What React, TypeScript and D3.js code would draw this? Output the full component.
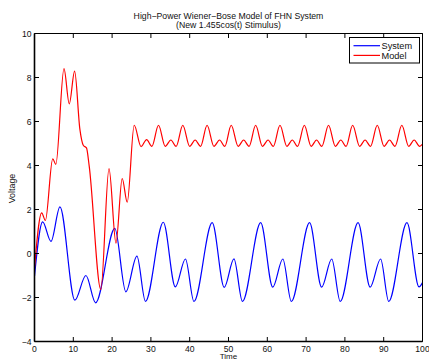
import React from "react";
import * as d3 from "d3";

// Data (extrema and key points)
const systemTime = [
  0, 2.1, 4.25, 6.56, 10.4, 13.25, 15.75, 20.7, 23.55, 26.4, 28.6,
  33.2, 36.3, 38.9, 41.1,
  45.8, 48.9, 51.4, 53.6,
  58.3, 61.4, 64.0, 66.2,
  70.9, 74.0, 76.6, 78.8,
  83.4, 86.5, 89.2, 91.3,
  96.0, 99.1, 100,
];
const systemVoltage = [
  -1.03, 1.44, 0.55, 2.12, -2.12, -1.0, -2.24, 1.14, -1.74, -0.12, -2.18,
  1.42, -1.52, -0.25, -2.18,
  1.40, -1.54, -0.24, -2.18,
  1.40, -1.53, -0.25, -2.18,
  1.40, -1.53, -0.25, -2.18,
  1.40, -1.53, -0.25, -2.18,
  1.40, -1.52, -1.32,
];

const modelTime = [
  0, 1.85, 2.8, 4.7, 5.5, 7.6, 8.96, 10.34, 11.7, 12.57, 13.4, 14.1, 17.1,
  19.2, 21.0, 22.6, 23.9,
  25.7, 27.45, 28.9, 30.25,
  31.96, 33.7, 35.15, 36.5,
  38.22, 40.0, 41.4, 42.8,
  44.48, 46.25, 47.7, 49.05,
  50.7, 52.5, 53.9, 55.3,
  57.0, 58.75, 60.2, 61.55,
  63.27, 65.05, 66.45, 67.8,
  69.55, 71.3, 72.7, 74.05,
  75.78, 77.55, 78.95, 80.3,
  82.0, 83.8, 85.2, 86.6,
  88.34, 90.1, 91.5, 92.9,
  94.67, 96.45, 97.85, 99.25, 100,
];
const modelVoltage = [
  -0.65, 1.85, 1.5, 4.3, 4.05, 8.4, 6.8, 8.29, 5.64, 4.92, 4.8, 3.97, -1.64,
  3.86, 0.47, 3.41, 2.33,
  5.83, 4.86, 5.18, 4.87,
  5.83, 4.87, 5.16, 4.87,
  5.83, 4.87, 5.16, 4.87,
  5.83, 4.87, 5.16, 4.87,
  5.83, 4.87, 5.16, 4.87,
  5.83, 4.87, 5.16, 4.87,
  5.83, 4.87, 5.16, 4.87,
  5.83, 4.87, 5.16, 4.87,
  5.83, 4.87, 5.16, 4.87,
  5.83, 4.87, 5.16, 4.87,
  5.83, 4.87, 5.16, 4.87,
  5.83, 4.87, 5.16, 4.87, 4.97,
];

const xTicks = [0, 10, 20, 30, 40, 50, 60, 70, 80, 90, 100];
const yTicks = [-4, -2, 0, 2, 4, 6, 8, 10];
const titleLines = ["High\u2212Power Wiener\u2212Bose Model of FHN System", "(New 1.455cos(t) Stimulus)"];
const legendLabels = ["System", "Model"];
const seriesColors = ["#0000ff", "#ff0000"];

const W = 429;
const H = 360;
const left = 34.5;
const right = 422.5;
const top = 33.5;
const bottom = 341.5;
const font = "'Liberation Sans', Arial, Helvetica, sans-serif";

const fmt = (v: number) => (v < 0 ? "\u2212" + Math.abs(v) : String(v));

export default function App() {
  const x = d3.scaleLinear().domain([0, 100]).range([left, right]);
  const y = d3.scaleLinear().domain([-4, 10]).range([bottom, top]);
  const line = d3
    .line<[number, number]>()
    .x((d) => x(d[0]))
    .y((d) => y(d[1]))
    .curve(d3.curveMonotoneX);

  const n1 = Math.min(systemTime.length, systemVoltage.length);
  const n2 = Math.min(modelTime.length, modelVoltage.length);
  const sys = systemTime.slice(0, n1).map((t, i) => [t, systemVoltage[i]] as [number, number]);
  const mod = modelTime.slice(0, n2).map((t, i) => [t, modelVoltage[i]] as [number, number]);
  const tickLen = 4.5;

  return (
    <svg
      width={W}
      height={H}
      style={{ position: "absolute", left: 0, top: 0, background: "#fff" }}
      fontFamily={font}
    >
      <rect x={0} y={0} width={W} height={H} fill="#fff" />
      <defs>
        <clipPath id="plotclip">
          <rect x={left} y={top} width={right - left} height={bottom - top} />
        </clipPath>
      </defs>
      {/* title */}
      {titleLines.map((t, i) => (
        <text
          key={i}
          x={(left + right) / 2}
          y={18.8 + i * 9.5}
          textAnchor="middle"
          fontSize={8.7}
          fill="#111"
        >
          {t}
        </text>
      ))}
      {/* series */}
      <g clipPath="url(#plotclip)">
        <path d={line(sys) || ""} fill="none" stroke={seriesColors[0]} strokeWidth={1.2} />
        <path d={line(mod) || ""} fill="none" stroke={seriesColors[1]} strokeWidth={1.2} />
      </g>
      {/* ticks */}
      {xTicks.map((t) => (
        <g key={"x" + t}>
          <line x1={x(t)} x2={x(t)} y1={bottom} y2={bottom - tickLen} stroke="#000" strokeWidth={1} />
          <line x1={x(t)} x2={x(t)} y1={top} y2={top + tickLen} stroke="#000" strokeWidth={1} />
          <text x={x(t)} y={351.5} textAnchor="middle" fontSize={8.6} fill="#111">
            {fmt(t)}
          </text>
        </g>
      ))}
      {yTicks.map((t) => (
        <g key={"y" + t}>
          <line x1={left} x2={left + tickLen} y1={y(t)} y2={y(t)} stroke="#000" strokeWidth={1} />
          <line x1={right} x2={right - tickLen} y1={y(t)} y2={y(t)} stroke="#000" strokeWidth={1} />
          <text x={31.5} y={y(t) + 3} textAnchor="end" fontSize={8.6} fill="#111">
            {fmt(t)}
          </text>
        </g>
      ))}
      {/* box */}
      <line x1={left} x2={right} y1={top} y2={top} stroke="#000" strokeWidth={1} />
      <line x1={right} x2={right} y1={top} y2={bottom} stroke="#000" strokeWidth={1} />
      <line x1={left} x2={right} y1={bottom} y2={bottom} stroke="#000" strokeWidth={1.6} />
      <line x1={left} x2={left} y1={top} y2={bottom} stroke="#000" strokeWidth={1.6} />
      {/* axis labels */}
      <text x={(left + right) / 2} y={359.3} textAnchor="middle" fontSize={8} fill="#111">
        Time
      </text>
      <text
        transform={`translate(15.3, ${(top + bottom) / 2 + 1}) rotate(-90)`}
        textAnchor="middle"
        fontSize={8.9}
        fill="#111"
      >
        Voltage
      </text>
      {/* legend */}
      <rect x={349.5} y={37.5} width={70} height={25.5} fill="#fff" stroke="#000" strokeWidth={1} />
      {legendLabels.map((l, i) => (
        <g key={l}>
          <line
            x1={353.5}
            x2={380}
            y1={45.7 + i * 9.7}
            y2={45.7 + i * 9.7}
            stroke={seriesColors[i]}
            strokeWidth={1.2}
          />
          <text x={381.5} y={45.7 + i * 9.7 + 3.2} fontSize={9.2} fill="#111">
            {l}
          </text>
        </g>
      ))}
    </svg>
  );
}
